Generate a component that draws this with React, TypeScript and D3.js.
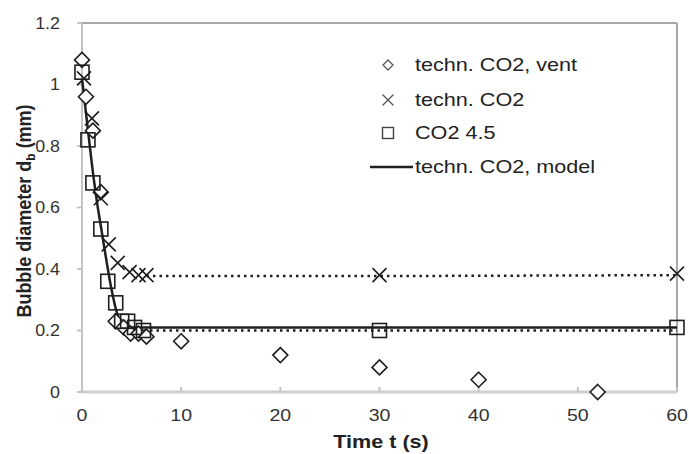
import React from "react";
import * as d3 from "d3";

const ventT = [0, 0.4, 1.1, 1.9, 3.4, 4.2, 4.9, 5.7, 6.5, 10, 20, 30, 40, 52];
const ventD = [1.08, 0.96, 0.85, 0.65, 0.23, 0.21, 0.19, 0.19, 0.18, 0.165, 0.12, 0.08, 0.04, 0.0];

const technT = [0.2, 1.0, 1.9, 2.7, 3.6, 4.8, 5.7, 6.5, 30, 60];
const technD = [1.02, 0.89, 0.63, 0.48, 0.42, 0.39, 0.38, 0.38, 0.38, 0.385];

const co2T = [0, 0.6, 1.1, 1.9, 2.6, 3.4, 4.0, 4.6, 5.3, 6.2, 30, 60];
const co2D = [1.04, 0.82, 0.68, 0.53, 0.36, 0.29, 0.23, 0.23, 0.21, 0.2, 0.2, 0.21];

const modelT = [0, 0.5, 1, 1.5, 2, 2.5, 3, 3.5, 4, 4.5, 5, 10, 30, 60];
const modelD = [1.02, 0.88, 0.74, 0.62, 0.52, 0.42, 0.33, 0.26, 0.22, 0.21, 0.21, 0.21, 0.21, 0.21];

const technPlateauT = [6.5, 30, 60];
const technPlateauD = [0.377, 0.377, 0.38];
const co2PlateauT = [6.2, 30, 60];
const co2PlateauD = [0.2, 0.2, 0.2];

const xTicks = [0, 10, 20, 30, 40, 50, 60];
const yTicks = [0, 0.2, 0.4, 0.6, 0.8, 1, 1.2];
const legendLabels = ["techn. CO2, vent", "techn. CO2", "CO2 4.5", "techn. CO2, model"];

const W = 689;
const H = 454;
const L = 82, R = 677, T = 23, B = 392;
const ink = "#1e1e1e";
const font = "Liberation Sans, Arial, sans-serif";

function Diamond({ x, y, s = 7.5, c = ink, w = 1.6 }: { x: number; y: number; s?: number; c?: string; w?: number }) {
  return <path d={`M${x},${y - s}L${x + s},${y}L${x},${y + s}L${x - s},${y}Z`} fill="white" stroke={c} strokeWidth={w} />;
}
function Square({ x, y, s = 7, c = ink, w = 1.6 }: { x: number; y: number; s?: number; c?: string; w?: number }) {
  return <rect x={x - s} y={y - s} width={2 * s} height={2 * s} fill="none" stroke={c} strokeWidth={w} />;
}
function Cross({ x, y, s = 7, c = ink, w = 1.6 }: { x: number; y: number; s?: number; c?: string; w?: number }) {
  return <path d={`M${x - s},${y - s}L${x + s},${y + s}M${x - s},${y + s}L${x + s},${y - s}`} stroke={c} strokeWidth={w} fill="none" />;
}

function SText({ x, y, anchor = "start", size = 18, sx = 1.2, weight = "normal", fill = "#333", children, dy }: any) {
  return (
    <text transform={`translate(${x},${y}) scale(${sx},1)`} textAnchor={anchor} dy={dy} fontFamily={font} fontSize={size} fontWeight={weight} fill={fill}>
      {children}
    </text>
  );
}

export default function App() {
  const x = d3.scaleLinear().domain([0, 60]).range([L, R]);
  const y = d3.scaleLinear().domain([0, 1.2]).range([B, T]);
  const mk = (ts: number[], ds: number[], curve: any = d3.curveLinear) =>
    d3.line<number>().x((t) => x(t)).y((_, i) => y(ds[i])).curve(curve)(ts) || "";

  const legX = 388, legTX = 415;
  const legY = [65, 100, 133, 167];

  return (
    <svg width={W} height={H} style={{ position: "absolute", left: 0, top: 0, background: "white" }}>
      <rect x={0} y={0} width={W} height={H} fill="white" />
      {/* frame */}
      <line x1={L} y1={T} x2={R} y2={T} stroke="#a8a8a8" strokeWidth={2} />
      <line x1={R} y1={T} x2={R} y2={B} stroke="#a8a8a8" strokeWidth={2} />
      <line x1={L} y1={T} x2={L} y2={B} stroke="#c4c4c4" strokeWidth={2} />
      <line x1={L} y1={B} x2={R} y2={B} stroke="#cfcfcf" strokeWidth={3} />
      {yTicks.map((v) => (
        <g key={"y" + v}>
          <line x1={L - 5} x2={L} y1={y(v)} y2={y(v)} stroke="#c4c4c4" strokeWidth={2} />
          <SText x={L - 22} y={y(v)} dy="0.35em" anchor="end" size={17} sx={1.05}>{String(v)}</SText>
        </g>
      ))}
      {xTicks.map((v) => (
        <g key={"x" + v}>
          <line x1={x(v)} x2={x(v)} y1={B} y2={B - 5} stroke="#c4c4c4" strokeWidth={2} />
          <SText x={x(v)} y={421} anchor="middle" size={17} sx={1.15}>{String(v)}</SText>
        </g>
      ))}
      <SText x={381} y={448} anchor="middle" weight="bold" fill="#222">Time t (s)</SText>
      <text transform={`translate(31,211) scale(1.1,1) rotate(-90)`} textAnchor="middle" fontFamily={font} fontSize={18} fontWeight="bold" fill="#222">
        Bubble diameter d<tspan fontSize={12} dy={4}>b</tspan><tspan dy={-4}> (mm)</tspan>
      </text>

      {/* lines */}
      <path d={mk(technPlateauT, technPlateauD)} fill="none" stroke={ink} strokeWidth={2.5} strokeDasharray="2.5,4" />
      <path d={mk(co2PlateauT, co2PlateauD)} fill="none" stroke={ink} strokeWidth={2.5} strokeDasharray="2.5,4" />
      <path d={mk(modelT, modelD, d3.curveMonotoneX)} fill="none" stroke={ink} strokeWidth={2.5} />

      {/* markers */}
      {ventT.map((t, i) => <Diamond key={"d" + i} x={x(t)} y={y(ventD[i])} />)}
      {co2T.map((t, i) => <Square key={"s" + i} x={x(t)} y={y(co2D[i])} />)}
      {technT.map((t, i) => <Cross key={"c" + i} x={x(t)} y={y(technD[i])} />)}

      {/* legend */}
      <Diamond x={legX} y={legY[0]} s={5} c="#555" w={1.3} />
      <Cross x={legX} y={legY[1]} s={5.5} c="#555" w={1.3} />
      <Square x={legX} y={legY[2]} s={5.5} c="#444" w={1.4} />
      <line x1={370} x2={413} y1={legY[3]} y2={legY[3]} stroke={ink} strokeWidth={2.5} />
      {legendLabels.map((l, i) => (
        <SText key={l} x={legTX} y={legY[i]} dy="0.35em" fill="#222">{l}</SText>
      ))}
    </svg>
  );
}
